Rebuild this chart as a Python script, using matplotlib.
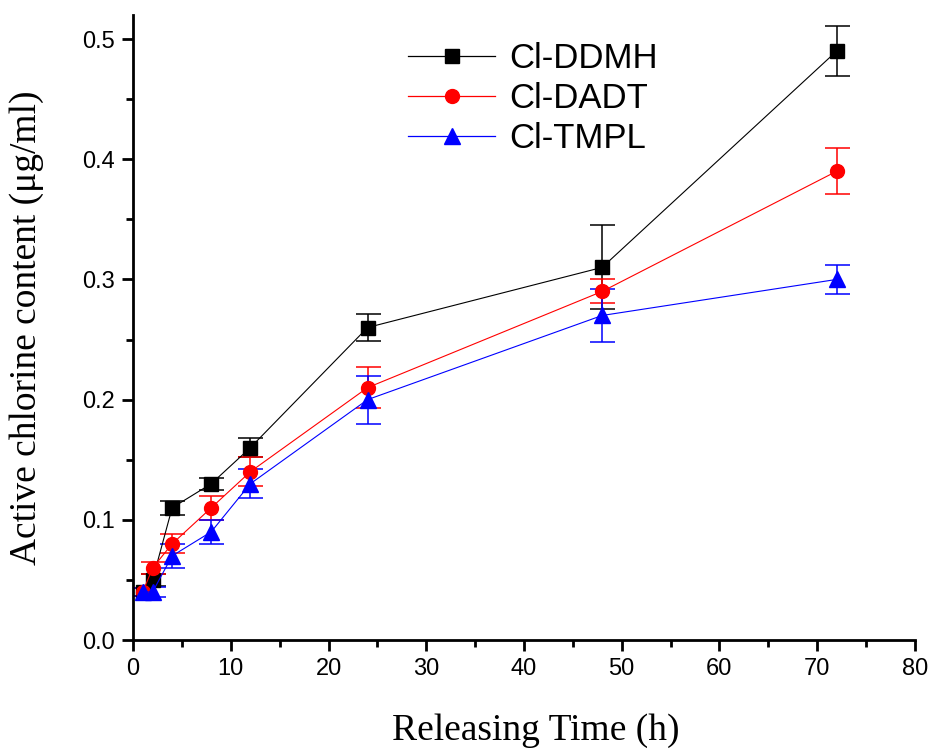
import numpy as np
import matplotlib.pyplot as plt
from matplotlib.ticker import MultipleLocator
from matplotlib.lines import Line2D

# release times (h)
time_h = [1, 2, 4, 8, 12, 24, 48, 72]

# active chlorine content (ug/ml) and error bars
ddmh = [0.04, 0.05, 0.11, 0.13, 0.16, 0.26, 0.31, 0.49]
ddmh_err = [0.003, 0.005, 0.006, 0.005, 0.008, 0.011, 0.035, 0.021]
dadt = [0.04, 0.06, 0.08, 0.11, 0.14, 0.21, 0.29, 0.39]
dadt_err = [0.003, 0.005, 0.008, 0.01, 0.012, 0.017, 0.01, 0.019]
tmpl = [0.04, 0.04, 0.07, 0.09, 0.13, 0.20, 0.27, 0.30]
tmpl_err = [0.003, 0.004, 0.01, 0.01, 0.012, 0.02, 0.022, 0.012]

labels = ['Cl-DDMH', 'Cl-DADT', 'Cl-TMPL']

fig = plt.figure(figsize=(9.33, 7.49), dpi=100)
ax = fig.add_axes([0.1426, 0.1455, 0.838, 0.8345])

series = [
    (ddmh, ddmh_err, 'black', 's', 10),
    (dadt, dadt_err, 'red', 'o', 10),
    (tmpl, tmpl_err, 'blue', '^', 12),
]
handles = []
for (vals, err, col, mk, ms), lab in zip(series, labels):
    ax.errorbar(time_h, vals, yerr=err, color=col, lw=0.8, marker=mk, ms=ms,
                mec=col, mfc=col, ecolor=col, elinewidth=1.1, capsize=9,
                capthick=1.1)
    handles.append(Line2D([], [], color=col, lw=0.9, marker=mk, ms=ms,
                          mec=col, mfc=col, label=lab))

ax.set_xlim(0, 80)
ax.set_ylim(0, 0.52)
ax.xaxis.set_major_locator(MultipleLocator(10))
ax.xaxis.set_minor_locator(MultipleLocator(5))
ax.yaxis.set_major_locator(MultipleLocator(0.1))
ax.yaxis.set_minor_locator(MultipleLocator(0.05))
ax.yaxis.set_major_formatter(plt.FuncFormatter(lambda v, p: '%.1f' % v))

for s in ['top', 'right']:
    ax.spines[s].set_visible(False)
for s in ['left', 'bottom']:
    ax.spines[s].set_linewidth(2)

ax.tick_params(which='major', direction='out', length=8, width=2,
               labelsize=17, pad=5)
ax.tick_params(which='minor', direction='out', length=5, width=2)
for t in ax.get_xticklabels() + ax.get_yticklabels():
    t.set_fontfamily('Liberation Sans')

ax.set_xlabel('Releasing Time (h)', fontfamily='Liberation Serif', fontsize=27)
ax.set_ylabel('Active chlorine content (\u03bcg/ml)', fontfamily='Liberation Serif', fontsize=27)
ax.xaxis.set_label_coords(0.515, -0.117)
ax.yaxis.set_label_coords(-0.114, 0.5)

leg = ax.legend(handles=handles, loc='upper left', bbox_to_anchor=(0.312, 1.006), frameon=False,
                prop={'family': 'Liberation Sans', 'size': 25},
                handlelength=2.5, labelspacing=0.2, handletextpad=0.4)

fig.savefig('out.png', dpi=100)
